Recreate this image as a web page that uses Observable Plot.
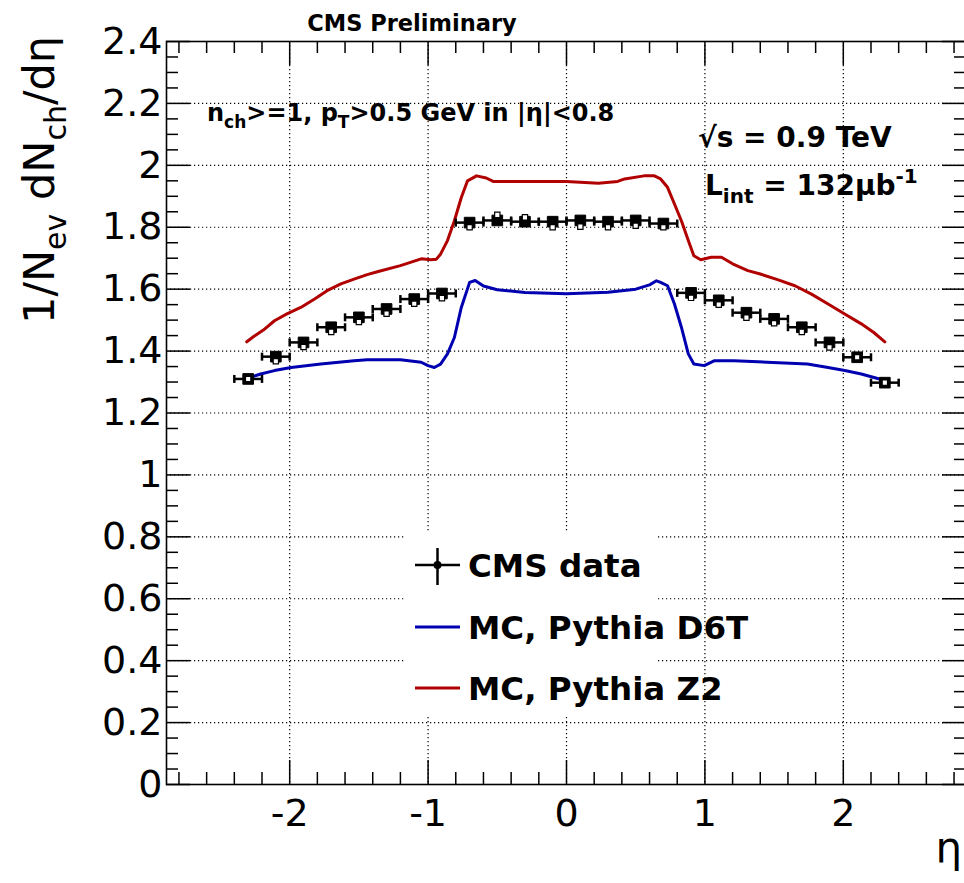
<!DOCTYPE html>
<html>
<head>
<meta charset="utf-8">
<script src="https://cdn.jsdelivr.net/npm/d3@7"></script>
<script src="https://cdn.jsdelivr.net/npm/@observablehq/plot@0.6"></script>
<style>
  html, body { margin: 0; padding: 0; background: #fff; overflow: hidden; }
  #chart svg { display: block; }
  text { white-space: pre; }
</style>
</head>
<body>
<div id="chart"></div>
<script>
// ---------------- data ----------------
const dataEta = [-2.3, -2.1, -1.9, -1.7, -1.5, -1.3, -1.1, -0.9,
                 -0.7, -0.5, -0.3, -0.1, 0.1, 0.3, 0.5, 0.7,
                 0.9, 1.1, 1.3, 1.5, 1.7, 1.9, 2.1, 2.3];
const dataValue = [1.310, 1.382, 1.428, 1.477, 1.509, 1.536, 1.568, 1.586,
                   1.815, 1.822, 1.818, 1.818, 1.822, 1.818, 1.822, 1.812,
                   1.588, 1.564, 1.524, 1.504, 1.477, 1.428, 1.380, 1.298];
const dataOpenValue = [1.310, 1.367, 1.413, 1.462, 1.494, 1.521, 1.553, 1.571,
                       1.800, 1.840, 1.832, 1.800, 1.802, 1.800, 1.805, 1.800,
                       1.572, 1.550, 1.508, 1.490, 1.462, 1.412, 1.380, 1.298];
const binHalfWidth = 0.1;

const d6tEta = [-2.32, -2.21, -2.11, -1.99, -1.775, -1.535, -1.44, -1.20, -1.05, -1.00, -0.955, -0.91,
                -0.86, -0.81, -0.76, -0.70, -0.66, -0.60, -0.50, -0.30, 0.0, 0.30, 0.50, 0.60, 0.65,
                0.68, 0.73, 0.78, 0.83, 0.88, 0.92, 0.995, 1.07, 1.21, 1.45, 1.74, 1.89, 2.01, 2.13, 2.30];
const d6tValue = [1.310, 1.326, 1.337, 1.347, 1.358, 1.369, 1.372, 1.372, 1.364, 1.353, 1.347, 1.358,
                  1.391, 1.444, 1.541, 1.622, 1.628, 1.610, 1.598, 1.589, 1.585, 1.590, 1.600, 1.614, 1.627,
                  1.622, 1.611, 1.552, 1.477, 1.391, 1.358, 1.353, 1.369, 1.369, 1.364, 1.358, 1.347, 1.337, 1.326, 1.305];

const z2Eta = [-2.31, -2.26, -2.19, -2.11, -2.02, -1.92, -1.82, -1.73, -1.63, -1.53, -1.44, -1.36, -1.20,
               -1.05, -0.98, -0.94, -0.91, -0.86, -0.81, -0.76, -0.715, -0.65, -0.58, -0.53, -0.33, 0.0,
               0.23, 0.37, 0.42, 0.56, 0.635, 0.68, 0.73, 0.78, 0.83, 0.88, 0.92, 0.97, 1.045, 1.12, 1.20,
               1.31, 1.40, 1.53, 1.65, 1.77, 1.89, 2.01, 2.13, 2.22, 2.30];
const z2Value = [1.430, 1.447, 1.468, 1.498, 1.520, 1.541, 1.568, 1.595, 1.617, 1.633, 1.647, 1.657, 1.676,
                 1.698, 1.695, 1.697, 1.713, 1.757, 1.821, 1.896, 1.950, 1.966, 1.959, 1.948, 1.948, 1.948,
                 1.942, 1.948, 1.956, 1.966, 1.966, 1.956, 1.929, 1.875, 1.821, 1.757, 1.708, 1.695, 1.703, 1.703, 1.682,
                 1.660, 1.649, 1.630, 1.611, 1.584, 1.552, 1.520, 1.488, 1.460, 1.430];

const xTicks = [-2, -1, 0, 1, 2];
const xTickLabels = ["-2", "-1", "0", "1", "2"];
const yTicks = [0, 0.2, 0.4, 0.6, 0.8, 1, 1.2, 1.4, 1.6, 1.8, 2, 2.2, 2.4];
const yTickLabels = ["0", "0.2", "0.4", "0.6", "0.8", "1", "1.2", "1.4", "1.6", "1.8", "2", "2.2", "2.4"];
const xDomain = [-2.89, 2.89];
const yDomain = [0, 2.4];

const legendLabels = ["CMS data", "MC, Pythia D6T", "MC, Pythia Z2"];
const d6tColor = "#0000b0";
const z2Color = "#b00000";

// ---------------- derived tables ----------------
const points = dataEta.map((e, i) => ({eta: e, v: dataValue[i], open: dataOpenValue[i],
                                       lo: e - binHalfWidth, hi: e + binHalfWidth}));
const d6t = d6tEta.map((e, i) => ({eta: e, v: d6tValue[i]}));
const z2 = z2Eta.map((e, i) => ({eta: e, v: z2Value[i]}));

const xMinor = d3.range(-28, 29, 2).filter(d => d % 10 !== 0).map(d => d / 10);
const yMinor = d3.range(0, 241, 5).filter(d => d % 20 !== 0).map(d => d / 100);
const xGrid = xTicks;
const yGrid = yTicks.slice(1, -1);

// ---------------- layout ----------------
const W = 968, H = 883;
const M = {top: 41, right: 2, bottom: 99, left: 166};
const frameW = W - M.left - M.right;
const frameH = H - M.top - M.bottom;
const majorLen = 24, minorLen = 12;
const FONT = "DejaVu Sans, Liberation Sans, Arial, sans-serif";

const capSymbol = {draw(ctx, size) { const h = Math.sqrt(size); ctx.moveTo(0, -h / 2); ctx.lineTo(0, h / 2); }};

const gridStyle = {stroke: "#000", strokeWidth: 1.2, strokeDasharray: "1.2,2.8"};
const tickStyle = {stroke: "#000", strokeWidth: 1.5};

const plot = Plot.plot({
  width: W, height: H,
  marginTop: M.top, marginRight: M.right, marginBottom: M.bottom, marginLeft: M.left,
  style: {fontFamily: FONT, background: "#fff", maxWidth: "none", overflow: "visible"},
  x: {domain: xDomain, axis: null},
  y: {domain: yDomain, axis: null},
  marks: [
    Plot.ruleX(xGrid, {x: d => d, ...gridStyle}),
    Plot.ruleY(yGrid, {y: d => d, ...gridStyle}),
    // ticks (inward, on all four sides)
    Plot.tickX(xTicks, {x: d => d, insetTop: frameH - majorLen, ...tickStyle}),
    Plot.tickX(xMinor, {x: d => d, insetTop: frameH - minorLen, ...tickStyle}),
    Plot.tickX(xTicks, {x: d => d, insetBottom: frameH - majorLen, ...tickStyle}),
    Plot.tickX(xMinor, {x: d => d, insetBottom: frameH - minorLen, ...tickStyle}),
    Plot.tickY(yTicks, {y: d => d, insetRight: frameW - majorLen, ...tickStyle}),
    Plot.tickY(yMinor, {y: d => d, insetRight: frameW - minorLen, ...tickStyle}),
    Plot.tickY(yTicks, {y: d => d, insetLeft: frameW - majorLen, ...tickStyle}),
    Plot.tickY(yMinor, {y: d => d, insetLeft: frameW - minorLen, ...tickStyle}),
    Plot.frame({stroke: "#000", strokeWidth: 1.6}),
    // tick labels
    Plot.text(xTicks, {x: d => d, text: (d, i) => xTickLabels[i], frameAnchor: "bottom",
                       lineAnchor: "top", dy: 15, fontSize: 38, fill: "#000"}),
    Plot.text(yTicks, {y: d => d, text: (d, i) => yTickLabels[i], frameAnchor: "left",
                       textAnchor: "end", dx: -4, fontSize: 38, fill: "#000"}),
    // MC curves
    Plot.line(d6t, {x: "eta", y: "v", stroke: d6tColor, strokeWidth: 3}),
    Plot.line(z2, {x: "eta", y: "v", stroke: z2Color, strokeWidth: 3}),
    // data
    Plot.ruleY(points, {y: "v", x1: "lo", x2: "hi", stroke: "#000", strokeWidth: 2.5}),
    Plot.dot(points, {x: "lo", y: "v", symbol: capSymbol, r: 4.5, stroke: "#000", strokeWidth: 2.5}),
    Plot.dot(points, {x: "hi", y: "v", symbol: capSymbol, r: 4.5, stroke: "#000", strokeWidth: 2.5}),
    Plot.dot(points, {x: "eta", y: "v", symbol: "square", r: 6, fill: "#000", stroke: "#000", strokeWidth: 1}),
    Plot.dot(points, {x: "eta", y: "open", symbol: "square", r: 3, fill: "#fff", stroke: "#000", strokeWidth: 1.2})
  ]
});

document.getElementById("chart").appendChild(plot);

// ---------------- annotations, titles, legend ----------------
const svg = d3.select(plot);
const ann = svg.append("g").attr("font-family", FONT).attr("fill", "#000").attr("text-anchor", "start");

// y title
const yt = ann.append("text").attr("transform", "translate(54,36) rotate(-90)")
  .attr("text-anchor", "end").attr("font-size", 43);
yt.append("tspan").text("1/N");
yt.append("tspan").attr("font-size", 30).attr("dy", 12).text("ev");
yt.append("tspan").attr("dy", -12).text(" dN");
yt.append("tspan").attr("font-size", 30).attr("dy", 12).text("ch");
yt.append("tspan").attr("dy", -12).text("/dη");

// x title
ann.append("text").attr("x", 962).attr("y", 862).attr("text-anchor", "end")
  .attr("font-size", 42).text("η");

// CMS Preliminary
ann.append("text").attr("x", 412).attr("y", 31).attr("text-anchor", "middle")
  .attr("font-size", 22.5).attr("font-weight", "bold").text("CMS Preliminary");

// selection text
const sel = ann.append("text").attr("x", 207).attr("y", 121).attr("text-anchor", "start")
  .attr("font-size", 24).attr("font-weight", "bold");
sel.append("tspan").text("n");
sel.append("tspan").attr("font-size", 17).attr("dy", 7).text("ch");
sel.append("tspan").attr("dy", -7).text(">=1, p");
sel.append("tspan").attr("font-size", 17).attr("dy", 7).text("T");
sel.append("tspan").attr("dy", -7).text(">0.5 GeV in |η|<0.8");

// sqrt(s)
ann.append("text").attr("x", 698).attr("y", 147).attr("text-anchor", "start")
  .attr("font-size", 28).attr("font-weight", "bold").text("√s = 0.9 TeV");
const lum = ann.append("text").attr("x", 705).attr("y", 195).attr("text-anchor", "start")
  .attr("font-size", 28).attr("font-weight", "bold");
lum.append("tspan").text("L");
lum.append("tspan").attr("font-size", 20).attr("dy", 8).text("int");
lum.append("tspan").attr("dy", -8).text(" = 132μb");
lum.append("tspan").attr("font-size", 20).attr("dy", -12).text("-1");

// legend
const leg = svg.append("g").attr("font-family", FONT).attr("text-anchor", "start");
leg.append("rect").attr("x", 404).attr("y", 533).attr("width", 252).attr("height", 182).attr("fill", "#fff");
const rowY = [565, 627, 688];
const legendColors = ["#000", d6tColor, z2Color];
legendLabels.forEach((lab, i) => {
  const y = rowY[i];
  leg.append("line").attr("x1", 415).attr("x2", 460).attr("y1", y).attr("y2", y)
    .attr("stroke", legendColors[i]).attr("stroke-width", i === 0 ? 2.5 : 3);
  if (i === 0) {
    leg.append("line").attr("x1", 437.5).attr("x2", 437.5).attr("y1", y - 17).attr("y2", y + 20)
      .attr("stroke", "#000").attr("stroke-width", 2.5);
    leg.append("circle").attr("cx", 437.5).attr("cy", y).attr("r", 4).attr("fill", "#000");
  }
  leg.append("text").attr("x", 468).attr("y", y + 12).attr("text-anchor", "start")
    .attr("font-size", 32.5).attr("font-weight", "bold").attr("fill", "#000").text(lab);
});
</script>
</body>
</html>
